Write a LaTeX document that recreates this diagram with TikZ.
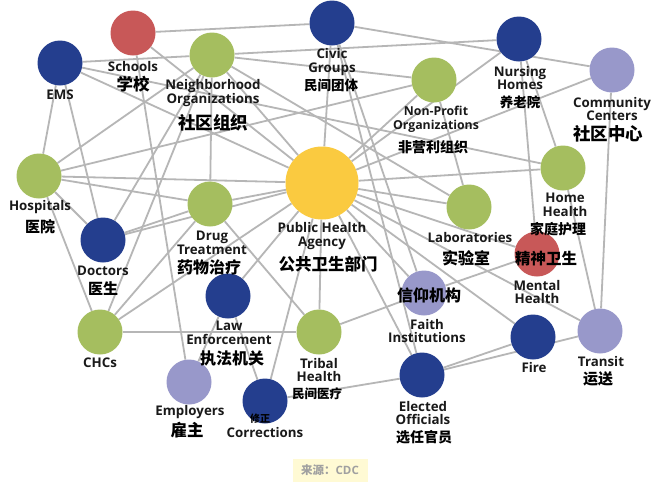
\documentclass[tikz,border=0pt]{standalone}
\usepackage{fontspec}
\setmainfont{Open Sans}
\newfontfamily\cjk{Noto Sans CJK SC}
\usetikzlibrary{backgrounds}
\definecolor{nblue}{RGB}{36,62,142}
\definecolor{ngreen}{RGB}{165,190,95}
\definecolor{nred}{RGB}{200,88,88}
\definecolor{nlav}{RGB}{152,152,202}
\definecolor{nyellow}{RGB}{250,202,64}
\definecolor{lgray}{RGB}{182,182,182}
\definecolor{txt}{RGB}{25,25,25}
\definecolor{srcbg}{RGB}{255,250,212}
\definecolor{srctxt}{RGB}{160,160,160}
\tikzset{
  hub/.style={circle, minimum size=45pt, inner sep=0pt},
  bluehub/.style={hub, fill=nblue},
  greenhub/.style={hub, fill=ngreen},
  redhub/.style={hub, fill=nred},
  lavhub/.style={hub, fill=nlav},
  link/.style={draw=lgray, line width=1.8pt},
  en/.style={font=\fontsize{13.3}{13.6}\selectfont\bfseries, text=txt, align=center, inner sep=0pt},
  ens/.style={font=\fontsize{12.3}{13.6}\selectfont\bfseries, text=txt, align=center, inner sep=0pt},
  zh/.style={font={\fontsize{#1}{#1}\cjk\bfseries}, text=black, inner sep=0pt}
}
\begin{document}
\begin{tikzpicture}[x=1pt,y=-1pt]
\useasboundingbox (0,0) rectangle (660,485);
% hubs
\node[redhub]   (schools) at (133,33) {};
\node[bluehub]  (ems) at (60,63) {};
\node[greenhub] (neigh) at (212,55) {};
\node[bluehub]  (civic) at (332,23) {};
\node[greenhub] (nonprofit) at (434,80) {};
\node[bluehub]  (nursing) at (519,39) {};
\node[lavhub]   (community) at (612,70) {};
\node[greenhub] (hospitals) at (39,176) {};
\node[greenhub] (drug) at (210,204) {};
\node[circle, minimum size=73pt, inner sep=0pt, fill=nyellow] (pha) at (322,183) {};
\node[greenhub] (labs) at (469,207) {};
\node[greenhub] (home) at (563,168) {};
\node[redhub]   (mental) at (537,254) {};
\node[bluehub]  (doctors) at (103,240) {};
\node[bluehub]  (law) at (228,296) {};
\node[lavhub]   (faith) at (424,293) {};
\node[greenhub] (chcs) at (100,332) {};
\node[greenhub] (tribal) at (319,332) {};
\node[bluehub]  (fire) at (533,337) {};
\node[lavhub]   (transit) at (600,331) {};
\node[lavhub]   (employers) at (189,382) {};
\node[bluehub]  (corrections) at (265,401) {};
\node[bluehub]  (elected) at (422,375) {};
% connectors
\begin{scope}[on background layer]
\fill[white] (0,0) rectangle (660,485);
\foreach \a/\b in {schools/civic, schools/pha, schools/employers,
  ems/neigh, ems/pha, ems/hospitals, ems/doctors, ems/home,
  neigh/nursing, neigh/nonprofit, neigh/pha, neigh/hospitals, neigh/doctors,
  neigh/chcs, neigh/drug, neigh/labs,
  civic/community, civic/pha, civic/elected, civic/faith,
  nursing/pha, nursing/mental, nursing/home,
  community/pha, community/transit,
  nonprofit/hospitals, nonprofit/labs, nonprofit/pha,
  hospitals/pha, hospitals/drug, hospitals/doctors, hospitals/chcs,
  doctors/drug, doctors/pha, drug/pha, drug/tribal, drug/chcs,
  chcs/pha, chcs/tribal,
  pha/home, pha/labs, pha/mental, pha/fire, pha/transit, pha/faith,
  pha/elected, pha/tribal, pha/law, pha/corrections,
  home/transit, faith/mental, faith/tribal,
  law/employers, law/corrections, corrections/elected,
  elected/fire, elected/transit}
  \draw[link] (\a) -- (\b);
\end{scope}
% labels
\node[en] (tems) at (60,95) {EMS};
\node[en] (tschools) at (133,67) {Schools};
\node[zh=16.5] (zschools) at (133,84) {学校};
\node[en] (tneigh) at (213,93) {Neighborhood\\Organizations};
\node[zh=17.5] (zneigh) at (213,123) {社区组织};
\node[en] (tcivic) at (332,62) {Civic\\Groups};
\node[zh=13.5] (zcivic) at (331,85) {民间团体};
\node[en] (tnursing) at (520,78) {Nursing\\Homes};
\node[zh=13.5] (znursing) at (520,102) {养老院};
\node[en] (tcommunity) at (612,109) {Community\\Centers};
\node[zh=17.5] (zcommunity) at (608,134) {社区中心};
\node[ens] (tnonprofit) at (436,119) {Non-Profit\\Organizations};
\node[zh=14] (znonprofit) at (433,147) {非营利组织};
\node[en] (thospitals) at (40,207) {Hospitals};
\node[zh=15] (zhospitals) at (40,227) {医院};
\node[en] (tdoctors) at (103,271) {Doctors};
\node[zh=15] (zdoctors) at (103,289) {医生};
\node[en] (tdrug) at (212,243) {Drug\\Treatment};
\node[zh=16] (zdrug) at (209,267) {药物治疗};
\node[en] (tpha) at (322,236) {Public Health\\Agency};
\node[zh=16.5] (zpha) at (328,264) {公共卫生部门};
\node[en] (tlabs) at (470,238) {Laboratories};
\node[zh=16] (zlabs) at (466,258) {实验室};
\node[en] (thome) at (565,205) {Home\\Health};
\node[zh=14] (zhome) at (558,229) {家庭护理};
\node[zh=15.5] (zmental) at (546,259) {精神卫生};
\node[en] (tmental) at (537,292) {Mental\\Health};
\node[zh=16] (zfaith) at (429,295) {信仰机构};
\node[en] (tfaith) at (427,331) {Faith\\Institutions};
\node[en] (tlaw) at (229,333) {Law\\Enforcement};
\node[zh=16] (zlaw) at (232,358) {执法机关};
\node[en] (tchcs) at (100,363) {CHCs};
\node[en] (ttribal) at (319,370) {Tribal\\Health};
\node[zh=12.5] (ztribal) at (317,394) {民间医疗};
\node[en] (temployers) at (190,412) {Employers};
\node[zh=16.5] (zemployers) at (187,430) {雇主};
\node[zh=10] (zcorrections) at (260,419) {修正};
\node[en] (tcorrections) at (265,433) {Corrections};
\node[en] (tfire) at (534,368) {Fire};
\node[en] (ttransit) at (601,362) {Transit};
\node[zh=15] (ztransit) at (598,379) {运送};
\node[en] (telected) at (423,413) {Elected\\Officials};
\node[zh=14] (zelected) at (424,437) {选任官员};
% source
\node[fill=srcbg, minimum width=75pt, minimum height=23pt, inner sep=0pt,
      text=srctxt, font=\fontsize{11.5}{11.5}\selectfont\bfseries] (source) at (330,470)
      {{\cjk\bfseries 来源：}CDC};
\end{tikzpicture}
\end{document}
